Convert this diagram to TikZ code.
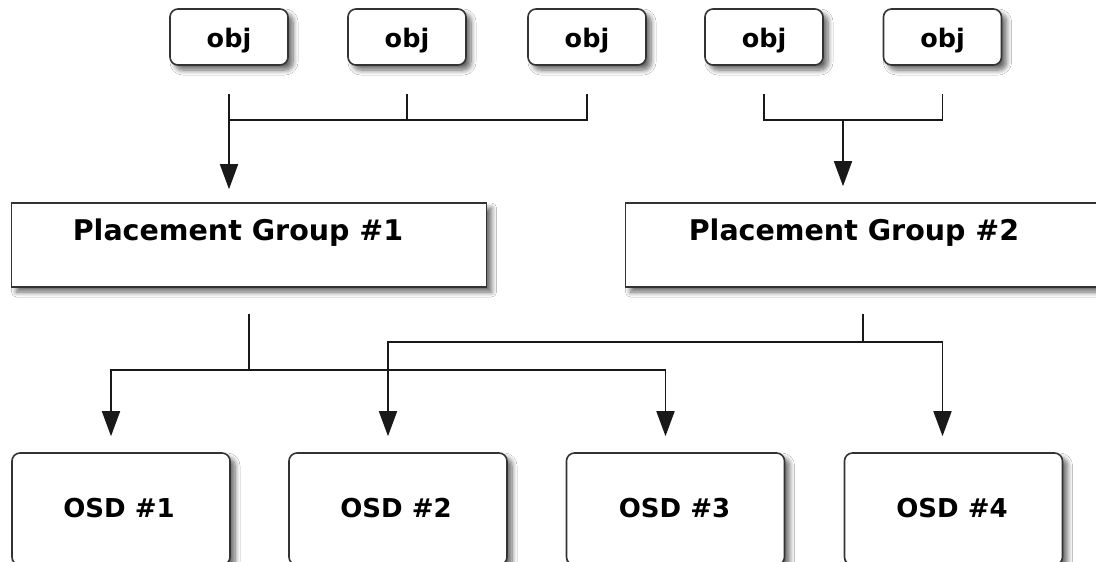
\documentclass[tikz,border=0pt]{standalone}
\usepackage{fontspec}
\setmainfont{DejaVu Sans}
\usetikzlibrary{arrows.meta,shadows.blur}
\begin{document}
\begin{tikzpicture}[x=1pt,y=-1pt,
  shadowed/.style={blur shadow={shadow xshift=5pt,shadow yshift=-5pt,shadow blur radius=5pt,shadow blur steps=8,shadow opacity=60}},
  objbox/.style={draw=black!80,line width=1.6pt,fill=white,rounded corners=8pt,minimum width=118pt,minimum height=56pt,inner sep=0pt,shadowed},
  pgbox/.style={draw=black!80,line width=1.6pt,fill=white,minimum width=475pt,minimum height=84pt,inner sep=0pt,shadowed},
  osdbox/.style={draw=black!80,line width=1.6pt,fill=white,rounded corners=8pt,minimum width=218pt,minimum height=112pt,inner sep=0pt,shadowed},
  objtxt/.style={anchor=base,inner sep=0pt,font=\fontsize{25.5}{30}\selectfont\bfseries},
  pgtxt/.style={anchor=base,inner sep=0pt,font=\fontsize{28.5}{34}\selectfont\bfseries},
  osdtxt/.style={anchor=base,inner sep=0pt,font=\fontsize{26}{31}\selectfont\bfseries},
  conn/.style={draw=black!90,line width=1.7pt},
  arr/.style={conn,-{Triangle[length=25pt,width=18pt]}}
]
\useasboundingbox (0,0) rectangle (1096,562);
\clip (0,0) rectangle (1096,562);
\fill[white] (0,0) rectangle (1096,562);

% object boxes
\node[objbox] (o1) at (229,37) {};
\node[objbox] (o2) at (407,37) {};
\node[objbox] (o3) at (587,37) {};
\node[objbox] (o4) at (764,37) {};
\node[objbox] (o5) at (942.5,37) {};
\node[objtxt] (t1) at (229,47) {obj};
\node[objtxt] (t2) at (407,47) {obj};
\node[objtxt] (t3) at (587,47) {obj};
\node[objtxt] (t4) at (764,47) {obj};
\node[objtxt] (t5) at (942.5,47) {obj};

% placement groups
\node[pgbox] (pg1) at (249,245) {};
\node[pgbox] (pg2) at (863,245) {};
\node[pgtxt] (pt1) at (238,240) {Placement Group \#1};
\node[pgtxt] (pt2) at (854,240) {Placement Group \#2};

% OSDs
\node[osdbox] (d1) at (121,509) {};
\node[osdbox] (d2) at (398,509) {};
\node[osdbox] (d3) at (675.5,509) {};
\node[osdbox] (d4) at (953.5,509) {};
\node[osdtxt] (dt1) at (119,517) {OSD \#1};
\node[osdtxt] (dt2) at (396,517) {OSD \#2};
\node[osdtxt] (dt3) at (674.5,517) {OSD \#3};
\node[osdtxt] (dt4) at (952,517) {OSD \#4};

% connector coordinates
\coordinate (s1) at ([yshift=-28pt]o1.south);
\coordinate (s2) at ([yshift=-28pt]o2.south);
\coordinate (s3) at ([yshift=-28pt]o3.south);
\coordinate (s4) at ([yshift=-28pt]o4.south);
\coordinate (s5) at ([yshift=-28pt]o5.south);
\coordinate (j1) at (229,120);
\coordinate (j4) at (843,120);
\coordinate (p1) at ([yshift=-26pt]pg1.south);
\coordinate (p2) at ([yshift=-26pt]pg2.south);
\coordinate (h1) at (249,370);
\coordinate (h2) at (863,342);

% objects -> PG1
\draw[conn] (s1) -- (j1) -| (s3);
\draw[conn] (s2) -- (s2 |- j1);
\draw[arr,shorten >=13pt] (j1) -- (j1 |- pg1.north);
% objects -> PG2
\draw[conn] (s4) |- (s4 |- j4) -| (s5);
\draw[arr,shorten >=16pt] (j4) -- (j4 |- pg2.north);

% PG1 -> OSD1, OSD3
\draw[conn] (p1) -- (h1);
\draw[arr,shorten >=16pt] (h1) -| ([xshift=-10pt]d1.north);
\draw[arr,shorten >=16pt] (h1) -| ([xshift=-10pt]d3.north);
% PG2 -> OSD2, OSD4
\draw[conn] (p2) -- (h2);
\draw[arr,shorten >=16pt] (h2) -| ([xshift=-10pt]d2.north);
\draw[arr,shorten >=16pt] (h2) -| ([xshift=-11pt]d4.north);
\end{tikzpicture}
\end{document}
